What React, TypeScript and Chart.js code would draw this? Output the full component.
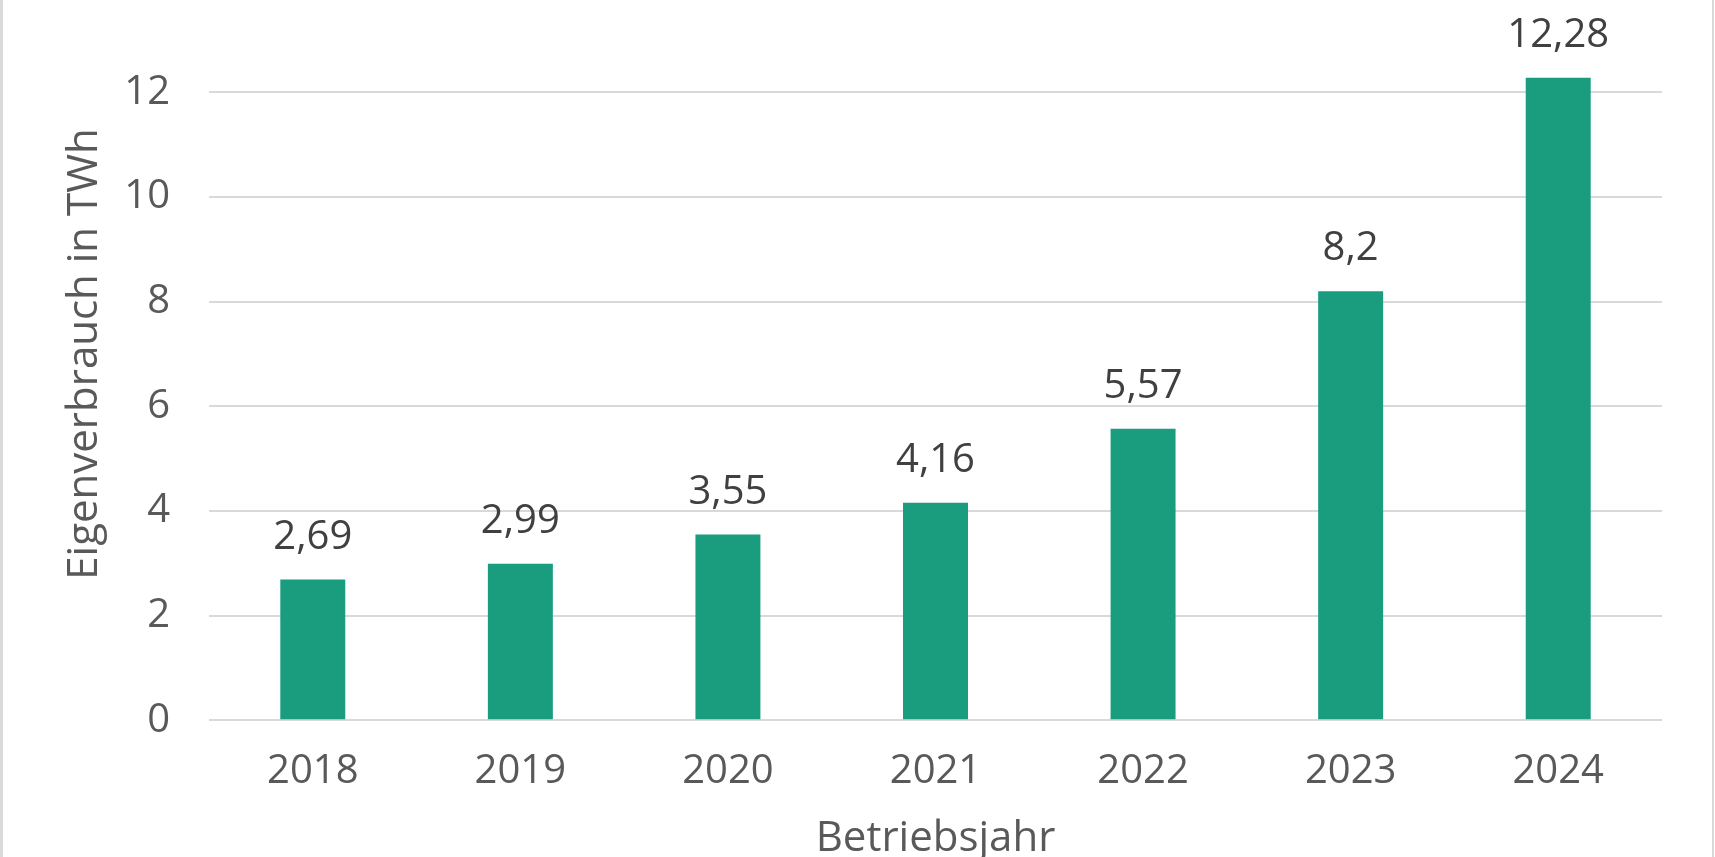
import React, { useEffect, useRef } from "react";
import { Chart, registerables } from "chart.js";

Chart.register(...registerables);

const categories = ["2018", "2019", "2020", "2021", "2022", "2023", "2024"];
const consumption = [2.69, 2.99, 3.55, 4.16, 5.57, 8.2, 12.28];
const yTicks = [0, 2, 4, 6, 8, 10, 12];
const yTitle = "Eigenverbrauch in TWh";
const xTitle = "Betriebsjahr";

const FONT = "'Open Sans', 'DejaVu Sans', sans-serif";
const WEIGHT = 400;
const TOP_HIDDEN = 40;
const BOTTOM_HIDDEN = 40;
const W = 1715;
const H = 857;

const labelPlugin = {
  id: "barValueLabels",
  afterDatasetsDraw(chart: any) {
    const ctx = chart.ctx;
    const meta = chart.getDatasetMeta(0);
    ctx.save();
    ctx.font = `${WEIGHT} 40px ${FONT}`;
    ctx.fillStyle = "#404040";
    ctx.textAlign = "center";
    ctx.textBaseline = "alphabetic";
    meta.data.forEach((bar: any, i: number) => {
      const text = String(consumption[i]).replace(".", ",");
      ctx.fillText(text, bar.x, bar.y - 31);
    });
    ctx.restore();
  },
};

export default function App() {
  const canvasRef = useRef<HTMLCanvasElement>(null);

  useEffect(() => {
    document.body.style.margin = "0";
    const canvas = canvasRef.current!;
    const chart = new Chart(canvas, {
      type: "bar",
      data: {
        labels: categories,
        datasets: [
          {
            data: consumption,
            backgroundColor: "#1a9c7e",
            borderWidth: 0,
            categoryPercentage: 1,
            barPercentage: 0.313,
          },
        ],
      },
      options: {
        responsive: false,
        animation: false,
        events: [],
        layout: {
          padding: { top: 27.8, left: 0, right: 53, bottom: 0 },
        },
        plugins: {
          legend: { display: false },
          tooltip: { enabled: false },
          title: { display: false },
        },
        scales: {
          x: {
            grid: { display: false, drawTicks: false },
            border: { display: false },
            ticks: {
              color: "#595959",
              font: { family: FONT, size: 40, weight: WEIGHT },
              padding: 27,
              maxRotation: 0,
            },
            title: {
              display: true,
              text: xTitle,
              color: "#595959",
              font: { family: FONT, size: 42, weight: WEIGHT },
              padding: { top: 0, bottom: 33 },
            },
            afterFit(scale: any) {
              scale.height = 176.7;
              scale.paddingLeft = 0;
              scale.paddingRight = 0;
            },
          },
          y: {
            min: 0,
            max: 14,
            grid: { color: "#d9d9d9", lineWidth: 2, drawTicks: false },
            border: { display: false },
            ticks: {
              stepSize: 2,
              color: "#595959",
              font: { family: FONT, size: 40, weight: WEIGHT },
              padding: 39,
              callback: (v: any) => (yTicks.includes(Number(v)) ? String(v) : ""),
            },
            title: {
              display: true,
              text: yTitle,
              color: "#595959",
              font: { family: FONT, size: 42, weight: WEIGHT },
              padding: { top: 60, bottom: 0 },
            },
            afterFit(scale: any) {
              scale.width = 209;
              scale.paddingTop = 0;
              scale.paddingBottom = 0;
            },
          },
        },
      },
      plugins: [labelPlugin],
    });
    return () => chart.destroy();
  }, []);

  return (
    <div
      style={{
        position: "relative",
        width: W,
        height: H,
        overflow: "hidden",
        background: "#ffffff",
      }}
    >
      <canvas
        ref={canvasRef}
        width={W}
        height={H + TOP_HIDDEN + BOTTOM_HIDDEN}
        style={{
          position: "absolute",
          left: 0,
          top: -TOP_HIDDEN,
          width: W,
          height: H + TOP_HIDDEN + BOTTOM_HIDDEN,
        }}
      />
      <div
        style={{
          position: "absolute",
          left: 0,
          top: 0,
          width: 2.5,
          height: H,
          background: "#d9d9d9",
        }}
      />
      <div
        style={{
          position: "absolute",
          left: 1711.5,
          top: 0,
          width: 2.5,
          height: H,
          background: "#d9d9d9",
        }}
      />
    </div>
  );
}
